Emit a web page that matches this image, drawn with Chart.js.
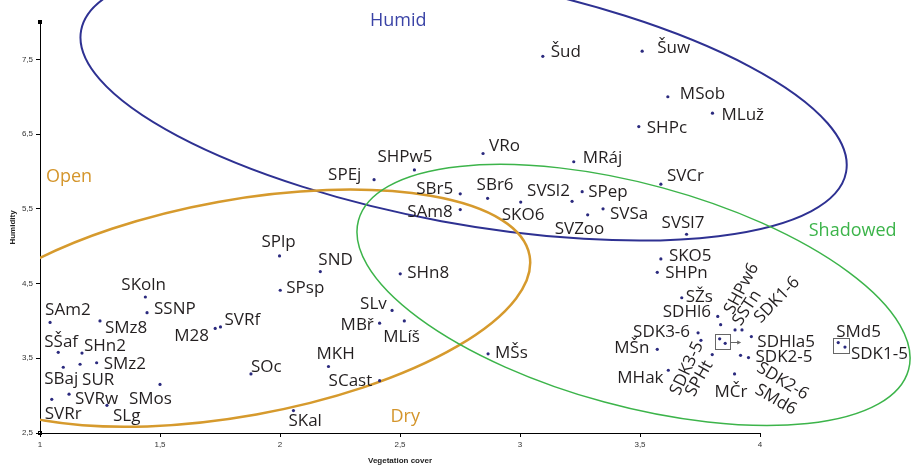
<!DOCTYPE html>
<html>
<head>
<meta charset="utf-8">
<script src="https://cdn.jsdelivr.net/npm/chart.js@4.4.1/dist/chart.umd.min.js"></script>
<style>
  html, body { margin: 0; padding: 0; background: #fff; }
  canvas { display: block; }
</style>
</head>
<body>
<canvas id="chart" width="911" height="466"></canvas>
<script>
// site codes
const names = ['SAm2','SKoln','SSNP','SMz8','SŠaf','SHn2','SBaj','SUR','SMz2','SMos',
  'SVRw','SVRr','SLg','M28','SVRf','SOc','SPlp','SPsp','SKal','SND',
  'SHn8','SLv','MBř','MLíš','MKH','SCast','MŠs','Šud','VRo','SHPw5',
  'SPEj','MRáj','SBr5','SBr6','SAm8','SKO6','SVSl2','SPep','SVZoo','SVSa',
  'Šuw','MSob','MLuž','SHPc','SVCr','SVSl7','SKO5','SHPn','SŽs','SDHl6',
  'SHPw6','SDK3-6','SSTn','SDK1-6','SDHla5','SDK3-5','SMd6','','SPHt','SDK2-6',
  'SDK2-5','MČr','MŠn','MHak','SMd5','SDK1-5'];

// Vegetation cover (x)
const vegCover = [1.042,1.439,1.446,1.250,1.076,1.175,1.097,1.167,1.236,1.500,
  1.121,1.049,1.279,1.730,1.752,1.879,1.998,2.001,2.056,2.168,
  2.501,2.467,2.415,2.518,2.202,2.415,2.867,3.095,2.846,2.560,
  2.392,3.224,2.751,2.865,2.751,3.003,3.217,3.259,3.282,3.346,
  3.509,3.616,3.802,3.495,3.587,3.694,3.587,3.572,3.674,3.824,
  3.836,3.742,3.896,3.925,3.964,3.754,3.832,3.855,3.801,3.919,
  3.952,3.894,3.572,3.618,4.326,4.354];

// Humidity (y)
const humidity = [3.98,4.32,4.11,4.00,3.58,3.57,3.38,3.42,3.44,3.15,
  3.02,2.95,2.87,3.90,3.92,3.29,4.87,4.41,2.80,4.66,
  4.63,4.14,3.97,4.00,3.39,3.20,3.56,7.54,6.24,6.02,
  5.89,6.13,5.70,5.64,5.49,5.59,5.60,5.73,5.42,5.50,
  7.61,7.00,6.78,6.60,5.83,5.16,4.83,4.65,4.31,4.06,
  3.95,3.84,3.88,3.88,3.79,3.74,3.76,3.70,3.55,3.54,
  3.51,3.29,3.62,3.34,3.71,3.65];

const xTicks = [1, 1.5, 2, 2.5, 3, 3.5, 4];
const yTicks = [2.5, 3.5, 4.5, 5.5, 6.5, 7.5];
const groupNames = ['Humid', 'Open', 'Dry', 'Shadowed'];

// ---- layout / style (not data) ----
const labelFont = '17px "Open Sans"';
const labelColor = '#231f20';

// label offsets from point in px: [dx, dy] left/baseline, or [dx, dy, angle] centred & rotated
const labelPos = {
  'SAm2':[-5,-7], 'SKoln':[-24,-7], 'SSNP':[7,1], 'SMz8':[5,12], 'SŠaf':[-14,-5],
  'SHn2':[2,-2], 'SBaj':[-19,17], 'SUR':[2,21], 'SMz2':[7,6], 'SMos':[-31,20],
  'SVRw':[6,10], 'SVRr':[-7,20], 'SLg':[6,16], 'M28':[-41,13], 'SVRf':[4,-2],
  'SOc':[0,-2], 'SPlp':[-18,-9], 'SPsp':[6,3], 'SKal':[-5,15], 'SND':[-2,-7],
  'SHn8':[7,4], 'SLv':[-32,-1], 'MBř':[-39,7], 'MLíš':[-21,21], 'MKH':[-12,-7],
  'SCast':[-51,5], 'MŠs':[7,4], 'Šud':[8,1], 'VRo':[6,-3], 'SHPw5':[-37,-8],
  'SPEj':[-46,0], 'MRáj':[9,1], 'SBr5':[-44,0], 'SBr6':[-11,-8], 'SAm8':[-53,7],
  'SKO6':[-19,18], 'SVSl2':[-45,-5], 'SPep':[6,5], 'SVZoo':[-33,19], 'SVSa':[7,10],
  'Šuw':[15,2], 'MSob':[12,2], 'MLuž':[9,7], 'SHPc':[8,6], 'SVCr':[6,-3],
  'SVSl7':[-25,-6], 'SKO5':[8,2], 'SHPn':[8,6], 'SŽs':[4,4], 'SDHl6':[-55,1],
  'SDK3-6':[-65,4], 'SDHla5':[6,10], 'SDK2-5':[7,4], 'MČr':[-20,23], 'MŠn':[-43,4],
  'MHak':[-51,13], 'SMd5':[-2,-6], 'SDK1-5':[6,12],
  'SHPw6':[21,-36,-62], 'SSTn':[12,-22,-57], 'SDK1-6':[35,-30,-46],
  'SDK3-5':[-14,28,-65], 'SPHt':[-13,24,-60], 'SDK2-6':[42,26,31], 'SMd6':[56,61,30]
};

// ellipse outlines: centre in data units, radii in px, angle in degrees
const ellipses = [
  { cx: 2.765, cy: 6.94, a: 389, b: 122, angle: 10.5, color: '#2e3192', width: 2 },
  { cx: 1.822, cy: 4.17, a: 297, b: 108, angle: -10.2, color: '#d69a2d', width: 2.5 },
  { cx: 3.473, cy: 4.347, a: 285, b: 111, angle: 15.2, color: '#3cb44a', width: 1.5 }
];

// group captions, anchored in data units
const groupStyle = [
  { x: 2.493, y: 8.01, color: '#3a43a6' },
  { x: 1.121, y: 5.93, color: '#d4952b' },
  { x: 2.522, y: 2.72, color: '#d4952b' },
  { x: 4.386, y: 5.21, color: '#3cb44a' }
];

const fmt = v => String(v).replace('.', ',');

const ellipsePlugin = {
  id: 'ellipses',
  beforeDatasetsDraw(chart) {
    const { ctx, chartArea, scales } = chart;
    ctx.save();
    ctx.beginPath();
    ctx.rect(chartArea.left, 0, chart.width - chartArea.left, chart.height);
    ctx.clip();
    ellipses.forEach(e => {
      ctx.beginPath();
      ctx.ellipse(scales.x.getPixelForValue(e.cx), scales.y.getPixelForValue(e.cy),
        e.a, e.b, e.angle * Math.PI / 180, 0, Math.PI * 2);
      ctx.strokeStyle = e.color;
      ctx.lineWidth = e.width;
      ctx.stroke();
    });
    ctx.restore();

    // x axis line only runs to the last tick
    const xs = scales.x;
    const yb = Math.round(chartArea.bottom) + 0.5;
    ctx.save();
    ctx.strokeStyle = '#000';
    ctx.lineWidth = 1;
    ctx.beginPath();
    ctx.moveTo(xs.getPixelForValue(xTicks[0]), yb);
    ctx.lineTo(xs.getPixelForValue(xTicks[xTicks.length - 1]) + 0.5, yb);
    ctx.stroke();
    ctx.restore();
  }
};

const labelPlugin = {
  id: 'pointLabels',
  afterDatasetsDraw(chart) {
    const { ctx, scales, chartArea } = chart;
    const meta = chart.getDatasetMeta(0);
    ctx.save();
    ctx.font = labelFont;
    ctx.fillStyle = labelColor;
    meta.data.forEach((pt, i) => {
      const name = names[i];
      const p = labelPos[name];
      if (!name || !p) return;
      if (p.length === 3) {
        ctx.save();
        ctx.translate(pt.x + p[0], pt.y + p[1]);
        ctx.rotate(p[2] * Math.PI / 180);
        ctx.textAlign = 'center';
        ctx.textBaseline = 'middle';
        ctx.fillText(name, 0, 0);
        ctx.restore();
      } else {
        ctx.textAlign = 'left';
        ctx.textBaseline = 'alphabetic';
        ctx.fillText(name, pt.x + p[0], pt.y + p[1]);
      }
    });

    // boxes around overlapping points
    const boxes = [
      { members: [names.indexOf('SMd6'), names.indexOf('SMd6') + 1], arrow: true },
      { members: [names.indexOf('SMd5'), names.indexOf('SDK1-5')], arrow: false }
    ];
    ctx.strokeStyle = '#666';
    ctx.fillStyle = '#666';
    ctx.lineWidth = 1;
    boxes.forEach(b => {
      const ps = b.members.map(i => meta.data[i]);
      const x0 = Math.min(...ps.map(p => p.x)) - 5, x1 = Math.max(...ps.map(p => p.x)) + 4;
      const y0 = Math.min(...ps.map(p => p.y)) - 5, y1 = Math.max(...ps.map(p => p.y)) + 6;
      ctx.strokeRect(Math.round(x0) + 0.5, Math.round(y0) + 0.5, Math.round(x1 - x0), Math.round(y1 - y0));
      if (b.arrow) {
        const ym = Math.round((y0 + y1) / 2) + 0.5;
        ctx.beginPath();
        ctx.moveTo(x1 + 1, ym);
        ctx.lineTo(x1 + 9, ym);
        ctx.stroke();
        ctx.beginPath();
        ctx.moveTo(x1 + 12, ym);
        ctx.lineTo(x1 + 8, ym - 2);
        ctx.lineTo(x1 + 8, ym + 2);
        ctx.closePath();
        ctx.fill();
      }
    });

    // group captions
    ctx.font = '18px "Open Sans"';
    ctx.textAlign = 'center';
    ctx.textBaseline = 'middle';
    groupNames.forEach((g, i) => {
      const s = groupStyle[i];
      ctx.fillStyle = s.color;
      ctx.fillText(g, scales.x.getPixelForValue(s.x), scales.y.getPixelForValue(s.y));
    });

    // axis titles
    const x1px = scales.x.getPixelForValue(xTicks[0]);
    const x4px = scales.x.getPixelForValue(xTicks[xTicks.length - 1]);
    ctx.fillStyle = '#222';
    ctx.font = 'bold 8px "Liberation Sans"';
    ctx.fillText('Vegetation cover', (x1px + x4px) / 2, 461);
    ctx.save();
    ctx.translate(13, (chartArea.top + chartArea.bottom) / 2);
    ctx.rotate(-Math.PI / 2);
    ctx.fillText('Humidity', 0, 0);
    ctx.restore();

    // little end markers on the y axis
    ctx.fillStyle = '#000';
    ctx.fillRect(chartArea.left - 2, chartArea.top - 2, 4, 4);
    ctx.strokeStyle = '#000';
    ctx.strokeRect(chartArea.left - 1.5, chartArea.bottom - 1.5, 3, 3);
    ctx.restore();
  }
};

new Chart(document.getElementById('chart'), {
  type: 'scatter',
  data: {
    datasets: [{
      data: vegCover.map((x, i) => ({ x: x, y: humidity[i] })),
      pointRadius: 1.6,
      pointBackgroundColor: '#2b2a7e',
      pointBorderWidth: 0,
      clip: false
    }]
  },
  options: {
    responsive: false,
    animation: false,
    layout: { padding: { top: 22, right: 7, left: 0, bottom: 0 } },
    plugins: { legend: { display: false }, tooltip: { enabled: false } },
    scales: {
      x: {
        type: 'linear',
        min: 1,
        max: 4.6,
        afterBuildTicks: s => { s.ticks = xTicks.map(v => ({ value: v })); },
        afterFit: s => { s.height = 33; },
        ticks: { font: { family: 'Liberation Sans', size: 8 }, color: '#333', padding: 3, callback: v => fmt(v), autoSkip: false, maxRotation: 0 },
        grid: { drawOnChartArea: false, tickLength: 4, color: '#000' },
        border: { display: false }
      },
      y: {
        type: 'linear',
        min: 2.5,
        max: 8,
        afterBuildTicks: s => { s.ticks = yTicks.map(v => ({ value: v })); },
        afterFit: s => { s.width = 40; },
        ticks: { font: { family: 'Liberation Sans', size: 8 }, color: '#333', padding: 3, callback: v => fmt(v), autoSkip: false },
        grid: { drawOnChartArea: false, tickLength: 4, color: '#000' },
        border: { color: '#000', width: 1 }
      }
    }
  },
  plugins: [ellipsePlugin, labelPlugin]
});
</script>
</body>
</html>
